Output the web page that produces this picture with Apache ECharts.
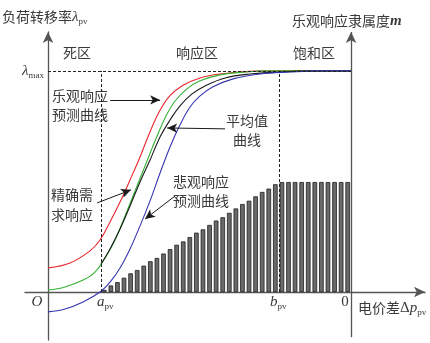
<!DOCTYPE html>
<html>
<head>
<meta charset="utf-8">
<script src="https://cdn.jsdelivr.net/npm/echarts@6/dist/echarts.min.js"></script>
<style>
  html, body { margin: 0; padding: 0; background: #fff; }
  #chart { width: 430px; height: 343px; }
</style>
</head>
<body>
<div id="chart"></div>
<script>
// Price difference axis: O at 0, right membership axis at 10
const aPv = 1.75;
const bPv = 7.62;
const zeroPrice = 10;
const lambdaMax = 1;

// Load transfer rate curves [price difference, transfer rate]
const optimisticCurve = [
  [0, 0.109], [0.726, 0.131], [1.386, 0.186], [1.716, 0.235], [2.046, 0.317],
  [2.376, 0.407], [2.706, 0.507], [3.036, 0.611], [3.366, 0.725], [3.696, 0.822],
  [4.026, 0.888], [4.455, 0.935], [5.017, 0.968], [5.677, 0.986], [6.667, 0.998],
  [7.657, 1.0], [10, 1.0]
];
const exactCurve = [
  [0, 0.009], [0.561, 0.023], [1.155, 0.054], [1.551, 0.090], [1.881, 0.154],
  [2.211, 0.235], [2.541, 0.344], [2.871, 0.457], [3.201, 0.570], [3.531, 0.683],
  [3.861, 0.787], [4.191, 0.864], [4.587, 0.919], [5.017, 0.955], [5.677, 0.982],
  [6.502, 0.995], [7.327, 1.0], [10, 1.0]
];
const averageCurve = [
  [1.749, 0.127], [2.046, 0.195], [2.376, 0.285], [2.706, 0.389], [3.036, 0.498],
  [3.366, 0.597], [3.696, 0.701], [4.026, 0.778], [4.356, 0.842], [4.752, 0.896],
  [5.182, 0.932], [5.842, 0.968], [6.667, 0.986], [7.657, 0.995], [8.647, 1.0],
  [10, 1.0]
];
const pessimisticCurve = [
  [0, -0.090], [0.561, -0.077], [1.155, -0.045], [1.716, 0.0], [2.046, 0.045],
  [2.376, 0.109], [2.706, 0.195], [3.036, 0.299], [3.366, 0.412], [3.696, 0.538],
  [4.026, 0.656], [4.356, 0.756], [4.686, 0.837], [5.017, 0.887], [5.446, 0.928],
  [6.106, 0.964], [6.997, 0.986], [7.987, 0.995], [8.977, 1.0], [10, 1.0]
];

// Optimistic response membership m over the price steps from a_pv to 0
const membership = [
  0.02, 0.06, 0.09, 0.13, 0.17, 0.20, 0.24, 0.28, 0.31, 0.35,
  0.39, 0.43, 0.46, 0.50, 0.54, 0.57, 0.61, 0.65, 0.68, 0.72,
  0.76, 0.80, 0.83, 0.87, 0.91, 0.94, 0.98,
  1, 1, 1, 1, 1, 1, 1, 1, 1, 1, 1
];
const priceSteps = membership.map((_, i) => 'p' + (i + 1));

const axisColor = '#555';
const textColor = '#3a3a3a';
const cnFont = '"Noto Sans CJK SC", sans-serif';
const serif = '"Liberation Serif", "DejaVu Serif", serif';

function cnText(x, y, text, align) {
  return {
    type: 'text', x: x, y: y, silent: true,
    style: { text: text, fill: textColor, font: '14px ' + cnFont,
             align: align || 'left', verticalAlign: 'middle' }
  };
}
function richText(x, y, text, align) {
  return {
    type: 'text', x: x, y: y, silent: true,
    style: {
      text: text, fill: textColor, align: align || 'left', verticalAlign: 'middle',
      font: '14px ' + cnFont,
      rich: {
        cn: { fontFamily: cnFont, fontSize: 14, fill: textColor },
        it: { fontFamily: serif, fontStyle: 'italic', fontSize: 15, fill: textColor },
        bi: { fontFamily: serif, fontStyle: 'italic', fontWeight: 'bold', fontSize: 15, fill: textColor },
        up: { fontFamily: serif, fontSize: 15, fill: textColor },
        sub: { fontFamily: serif, fontSize: 9, fill: textColor, padding: [9, 0, 0, 0] }
      }
    }
  };
}

function arrow(from, to) {
  return [{ coord: from }, { coord: to }];
}

function curve(name, data, color) {
  return {
    name: name, type: 'line', data: data, smooth: 0.4,
    showSymbol: false, silent: true, z: 3,
    lineStyle: { color: color, width: 1.1 }
  };
}

const chart = echarts.init(document.getElementById('chart'));
chart.setOption({
  animation: false,
  backgroundColor: '#fff',
  grid: [
    { left: 25, right: 5, top: 32, bottom: 3 },
    { left: 101, right: 79, top: 32, bottom: 3 }
  ],
  xAxis: [
    {
      type: 'value', gridIndex: 0, min: -0.76, max: 12.44,
      axisLine: { show: true, onZero: true, lineStyle: { color: axisColor, width: 1.3 },
                  symbol: ['none', 'arrow'], symbolSize: [8, 11] },
      axisTick: { show: false }, axisLabel: { show: false }, splitLine: { show: false }
    },
    {
      type: 'category', gridIndex: 1, data: priceSteps, show: false
    }
  ],
  yAxis: [
    {
      type: 'value', gridIndex: 0, min: -0.217, max: 1.176,
      axisLine: { show: true, onZero: true, lineStyle: { color: axisColor, width: 1.3 },
                  symbol: ['none', 'arrow'], symbolSize: [8, 11] },
      axisTick: { show: false }, axisLabel: { show: false }, splitLine: { show: false }
    },
    {
      type: 'value', gridIndex: 1, min: -0.436, max: 2.364, show: false
    }
  ],
  series: [
    {
      name: '乐观隶属度', type: 'bar', xAxisIndex: 1, yAxisIndex: 1,
      data: membership, barCategoryGap: '30%', silent: true,
      itemStyle: { color: '#6a6a6a', borderColor: '#1e1e1e', borderWidth: 0.8 }
    },
    {
      name: '引导线', type: 'line', data: [], clip: false, silent: true,
      markLine: {
        silent: true, symbol: ['none', 'none'], label: { show: false },
        lineStyle: { color: '#222', type: [3, 2], width: 1 },
        emphasis: { disabled: true },
        data: [
          arrow([0, lambdaMax], [zeroPrice, lambdaMax]),
          arrow([aPv, 0], [aPv, lambdaMax]),
          arrow([bPv, 0], [bPv, lambdaMax])
        ]
      }
    },
    curve('乐观响应预测曲线', optimisticCurve, '#e8262c'),
    curve('精确需求响应', exactCurve, '#33b233'),
    curve('平均值曲线', averageCurve, '#1a1a1a'),
    curve('悲观响应预测曲线', pessimisticCurve, '#3535b0'),
    {
      name: '标注', type: 'line', data: [], clip: false, silent: true, z: 5,
      markLine: {
        silent: true, symbol: ['none', 'arrow'], symbolSize: [7, 10],
        label: { show: false }, emphasis: { disabled: true },
        lineStyle: { color: '#1a1a1a', type: 'solid', width: 1 },
        data: [
          arrow([2.05, 0.869], [3.70, 0.869]),
          arrow([5.84, 0.738], [3.93, 0.742]),
          arrow([1.62, 0.403], [2.74, 0.462]),
          arrow([4.19, 0.434], [3.20, 0.330])
        ]
      }
    },
    {
      name: '隶属度轴', type: 'line', data: [], clip: false, silent: true, z: 6,
      markLine: {
        silent: true, symbol: ['none', 'arrow'], symbolSize: [8, 11],
        label: { show: false }, emphasis: { disabled: true },
        lineStyle: { color: axisColor, type: 'solid', width: 1.3 },
        data: [ arrow([zeroPrice, -0.204], [zeroPrice, 1.176]) ]
      }
    }
  ],
  graphic: [
    richText(2, 17, '{cn|负荷转移率}{it|λ}{sub|pv}'),
    richText(292, 21, '{cn|乐观响应隶属度}{bi|m}'),
    cnText(63, 53, '死区'),
    cnText(176, 53, '响应区'),
    cnText(293, 53, '饱和区'),
    richText(22, 71, '{it|λ}{sub|max}'),
    cnText(52, 96, '乐观响应'),
    cnText(52, 115, '预测曲线'),
    cnText(226, 121, '平均值'),
    cnText(233, 140, '曲线'),
    cnText(51, 195, '精确需'),
    cnText(51, 215, '求响应'),
    cnText(173, 182, '悲观响应'),
    cnText(173, 201, '预测曲线'),
    richText(37, 302, '{it|O}', 'center'),
    richText(97, 302, '{it|a}{sub|pv}'),
    richText(270, 302, '{it|b}{sub|pv}'),
    richText(345, 302, '{up|0}', 'center'),
    richText(358, 308, '{cn|电价差}{up|Δ}{it|p}{sub|pv}')
  ]
});
</script>
</body>
</html>
